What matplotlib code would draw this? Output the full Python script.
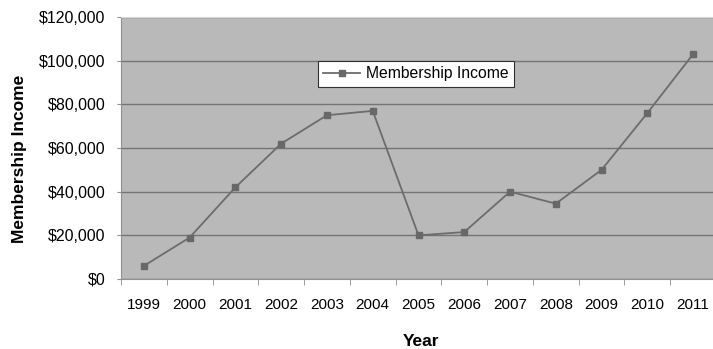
import matplotlib.pyplot as plt
from matplotlib.ticker import StrMethodFormatter
import numpy as np

plt.rcParams['font.family'] = ['Liberation Sans', 'DejaVu Sans']

years = ['1999', '2000', '2001', '2002', '2003', '2004', '2005',
         '2006', '2007', '2008', '2009', '2010', '2011']
income = [6000, 19000, 42000, 62000, 75000, 77000, 20000,
          21500, 40000, 34500, 50000, 76000, 103000]

fig = plt.figure(figsize=(7.13, 3.49), dpi=100)
# plot area runs slightly past the right edge, like the original crop
ax = fig.add_axes([121 / 713, 1 - 279 / 349, 595 / 713, 262 / 349])
ax.set_facecolor('#b9b9b9')

x = np.arange(len(years))
ax.plot(x, income, color='#6c6c6c', lw=1.3, marker='s', ms=5,
        mfc='#686868', mec='#686868', label='Membership Income', zorder=3)

ax.set_xlim(-0.5, len(years) - 0.5)
ax.set_ylim(0, 120000)
ax.set_yticks(np.arange(0, 120001, 20000))
ax.yaxis.set_major_formatter(StrMethodFormatter('${x:,.0f}'))
ax.grid(axis='y', color='#747474', lw=1)
ax.set_axisbelow(True)

ax.set_xticks(x)
ax.set_xticklabels(years)
ax.set_xticks(np.arange(-0.5, len(years), 1), minor=True)
ax.tick_params(axis='x', which='major', length=0, pad=14, labelsize=11)
ax.tick_params(axis='x', which='minor', length=4, color='#909090')
ax.tick_params(axis='y', length=3, color='#909090', pad=8, labelsize=11.5)

for side in ['left', 'bottom']:
    ax.spines[side].set_color('#909090')
ax.spines['top'].set_color('#d8d8d8')
ax.spines['right'].set_visible(False)

ax.set_ylabel('Membership Income', fontsize=12.5, fontweight='bold')
ax.yaxis.set_label_coords(-0.158, 0.458)
ax.set_xlabel('Year', fontsize=12.5, fontweight='bold')
ax.xaxis.set_label_coords(0.505, -0.21)

leg = ax.legend(loc='upper left', bbox_to_anchor=(318 / 713, 1 - 61 / 349),
                bbox_transform=fig.transFigure, fontsize=11.3, frameon=True,
                fancybox=False, borderpad=0.35, handlelength=2.3,
                handletextpad=0.4, borderaxespad=0)
leg.get_frame().set_edgecolor('#303030')
leg.get_frame().set_linewidth(0.8)
leg.get_frame().set_facecolor('white')
leg.get_frame().set_alpha(1)

fig.savefig('out.png', dpi=100)
